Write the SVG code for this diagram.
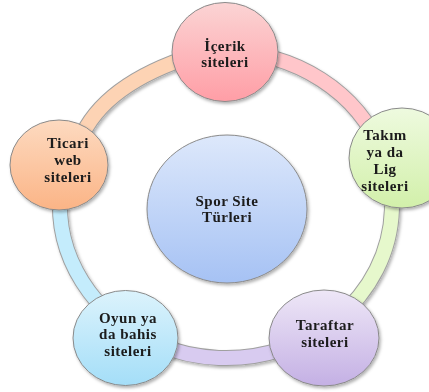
<svg xmlns="http://www.w3.org/2000/svg" width="429" height="392" viewBox="0 0 429 392">
<style>
.lbl{font-family:"Liberation Serif","Times New Roman",serif;font-weight:bold;font-size:15px;letter-spacing:0.5px;fill:#1a1a1a;text-anchor:middle}
.node{stroke:#8a8a8a;stroke-width:1}
.edge{fill:none;stroke-width:14}
.edgeout{fill:none;stroke:#a0a0a0;stroke-width:16}
</style>
<defs>
<filter id="sh" x="-20%" y="-20%" width="140%" height="140%">
<feDropShadow dx="1.5" dy="2" stdDeviation="1.5" flood-color="#000" flood-opacity="0.3"/>
</filter>
<linearGradient id="gPink" x1="0" y1="0" x2="0" y2="1"><stop offset="0" stop-color="#fbd4d4"/><stop offset="1" stop-color="#ff9ea6"/></linearGradient>
<linearGradient id="gGreen" x1="0" y1="0" x2="0" y2="1"><stop offset="0" stop-color="#eefadf"/><stop offset="1" stop-color="#d2f0aa"/></linearGradient>
<linearGradient id="gOrange" x1="0" y1="0" x2="0" y2="1"><stop offset="0" stop-color="#fddac0"/><stop offset="1" stop-color="#fbb486"/></linearGradient>
<linearGradient id="gCenter" x1="0" y1="0" x2="0" y2="1"><stop offset="0" stop-color="#dde8fb"/><stop offset="1" stop-color="#a6c2f4"/></linearGradient>
<linearGradient id="gCyan" x1="0" y1="0" x2="0" y2="1"><stop offset="0" stop-color="#dcf3fc"/><stop offset="1" stop-color="#a4def8"/></linearGradient>
<linearGradient id="gPurple" x1="0" y1="0" x2="0" y2="1"><stop offset="0" stop-color="#eee7f7"/><stop offset="1" stop-color="#c4b0e4"/></linearGradient>
</defs>
<rect width="429" height="392" fill="#ffffff"/>
<g id="connectors" filter="url(#sh)">
<path class="edgeout" d="M 226 52 A 166 153 0 0 1 382 152.7"/>
<path class="edge" stroke="#ffc6ca" d="M 226 52 A 166 153 0 0 1 382 152.7"/>
<path class="edgeout" d="M 382 152.7 A 166 153 0 0 1 282.8 348.8"/>
<path class="edge" stroke="#e6f8cc" d="M 382 152.7 A 166 153 0 0 1 282.8 348.8"/>
<path class="edgeout" d="M 282.8 348.8 A 166 153 0 0 1 155.8 343.7"/>
<path class="edge" stroke="#d8cbf0" d="M 282.8 348.8 A 166 153 0 0 1 155.8 343.7"/>
<path class="edgeout" d="M 155.8 343.7 A 166 153 0 0 1 60.6 191.7"/>
<path class="edge" stroke="#c4ecfc" d="M 155.8 343.7 A 166 153 0 0 1 60.6 191.7"/>
<path class="edgeout" d="M 80 140 Q 103 84 195 55"/>
<path class="edge" stroke="#fdd3b4" d="M 80 140 Q 103 84 195 55"/>
</g>
<g id="center" filter="url(#sh)">
<ellipse class="node" cx="227" cy="209" rx="80" ry="74" fill="url(#gCenter)"/>
<text class="lbl" x="227" y="206">Spor Site</text>
<text class="lbl" x="227" y="222">Türleri</text>
</g>
<g id="icerik" filter="url(#sh)">
<ellipse class="node" cx="225" cy="52" rx="53" ry="49.5" fill="url(#gPink)"/>
<text class="lbl" x="225" y="51">İçerik</text>
<text class="lbl" x="225" y="67">siteleri</text>
</g>
<g id="takim" filter="url(#sh)">
<ellipse class="node" cx="402" cy="158" rx="53" ry="50" fill="url(#gGreen)"/>
<text class="lbl" x="385" y="140">Takım</text>
<text class="lbl" x="385" y="157">ya da</text>
<text class="lbl" x="385" y="174">Lig</text>
<text class="lbl" x="385" y="191">siteleri</text>
</g>
<g id="taraftar" filter="url(#sh)">
<ellipse class="node" cx="324" cy="338" rx="55" ry="48" fill="url(#gPurple)"/>
<text class="lbl" x="325" y="330">Taraftar</text>
<text class="lbl" x="325" y="347">siteleri</text>
</g>
<g id="oyun" filter="url(#sh)">
<ellipse class="node" cx="125.5" cy="338" rx="52.5" ry="47.5" fill="url(#gCyan)"/>
<text class="lbl" x="128" y="323">Oyun ya</text>
<text class="lbl" x="128" y="339">da bahis</text>
<text class="lbl" x="128" y="356">siteleri</text>
</g>
<g id="ticari" filter="url(#sh)">
<ellipse class="node" cx="59" cy="165" rx="49" ry="45" fill="url(#gOrange)"/>
<text class="lbl" x="68" y="148">Ticari</text>
<text class="lbl" x="68" y="165">web</text>
<text class="lbl" x="68" y="182">siteleri</text>
</g>
</svg>
